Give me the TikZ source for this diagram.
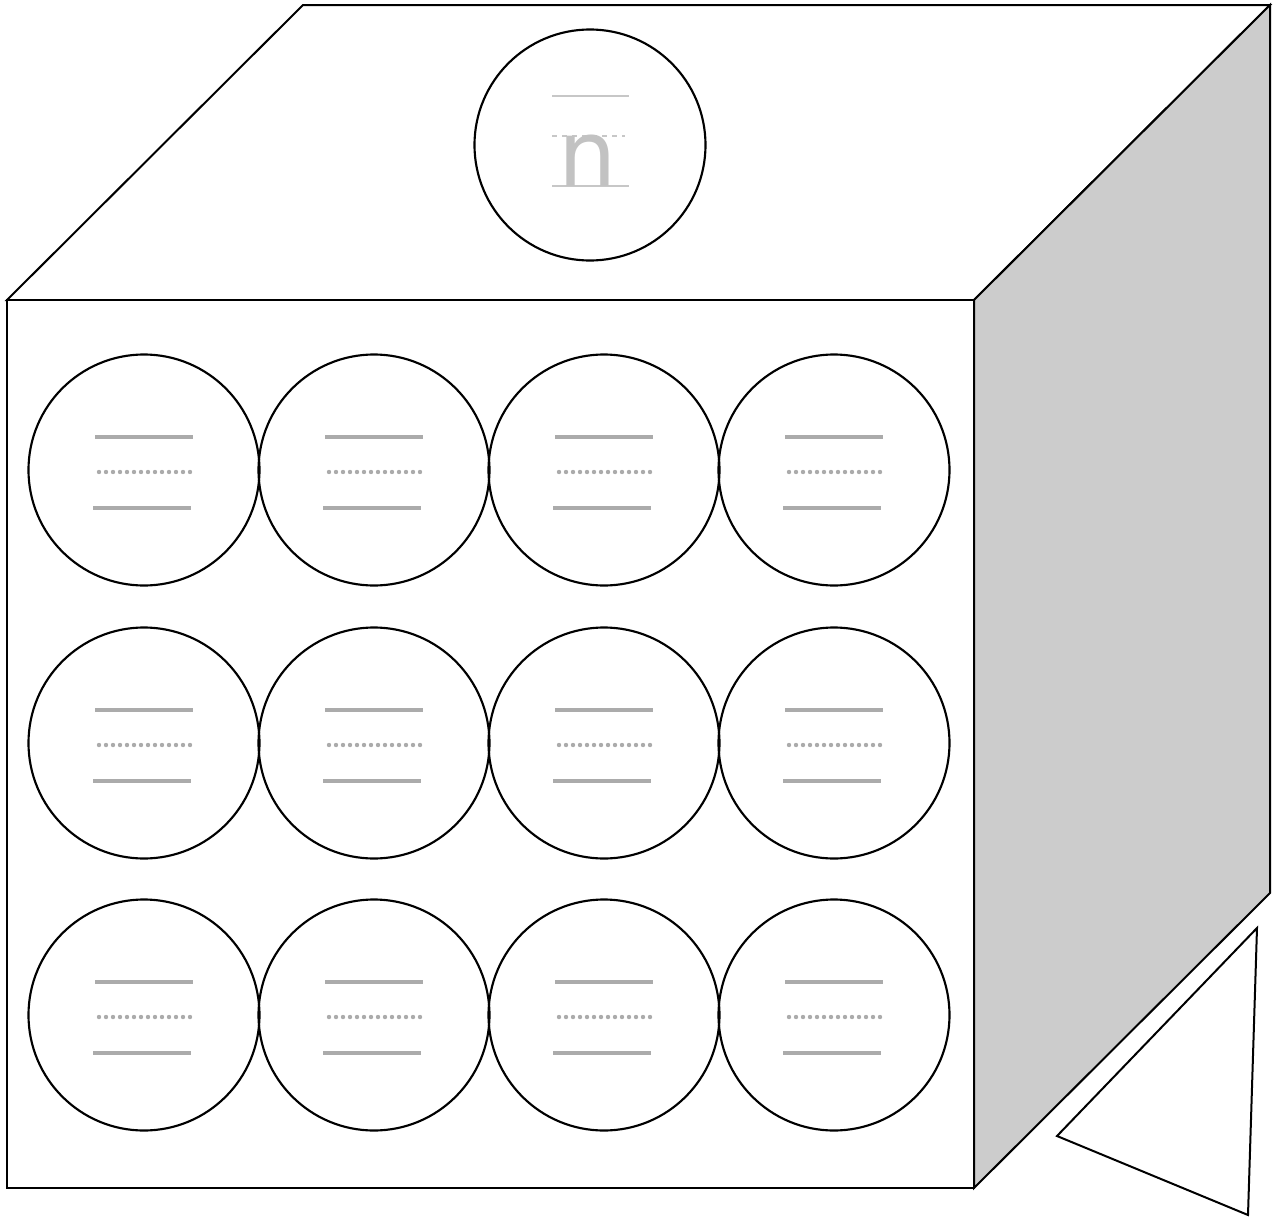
\documentclass[tikz,border=0pt]{standalone}
\usepackage{fontspec}
\newfontfamily\glyphfont{DejaVu Sans}
\begin{document}
\begin{tikzpicture}[x=0.75pt,y=-0.75pt,
  edge/.style={draw=black,line width=1.5pt,line join=miter},
  disc/.style={circle,draw=black,line width=1.6pt,minimum size=231*0.75pt,inner sep=0pt},
  solidbar/.style={draw=black!33,line width=2.4pt},
  dotbar/.style={draw=black!33,line width=3.3pt,line cap=round,dash pattern=on 0pt off 7*0.75pt},
  guide/.style={draw=black!22,line width=0.9pt}]
\useasboundingbox (0,0) rectangle (1275,1217);
% cube
\draw[edge,fill=white] (7,300) -- (303,5) -- (1270,5) -- (974,300) -- cycle;
\draw[edge,fill=black!20] (974,300) -- (1270,5) -- (1270,893) -- (974,1188) -- cycle;
\draw[edge,fill=white] (7,300) rectangle (974,1188);
% triangle
\draw[edge] (1257,928) -- (1057,1136) -- (1248,1215) -- cycle;
% top circle
\node[disc] (top) at (590,145) {};
\draw[guide] (552,96) -- (629,96);
\draw[guide,dash pattern=on 5*0.75pt off 5*0.75pt] (552,136) -- (625,136);
\draw[guide] (552,186) -- (629,186);
\node[anchor=base,inner sep=0pt,text=black!24,font=\glyphfont\fontsize{69}{69}\selectfont] (nlabel) at (588,186) {n};
% grid circles
\foreach \r/\cy in {1/470,2/743,3/1015}{
  \foreach \c/\cx in {1/144,2/374,3/604,4/834}{
    \node[disc] (c\r\c) at (\cx,\cy) {};
    \draw[solidbar] (\cx-49,\cy-33) -- (\cx+49,\cy-33);
    \draw[dotbar] (\cx-45,\cy+2) -- (\cx+47,\cy+2);
    \draw[solidbar] (\cx-51,\cy+38) -- (\cx+47,\cy+38);
  }
}
\end{tikzpicture}
\end{document}
